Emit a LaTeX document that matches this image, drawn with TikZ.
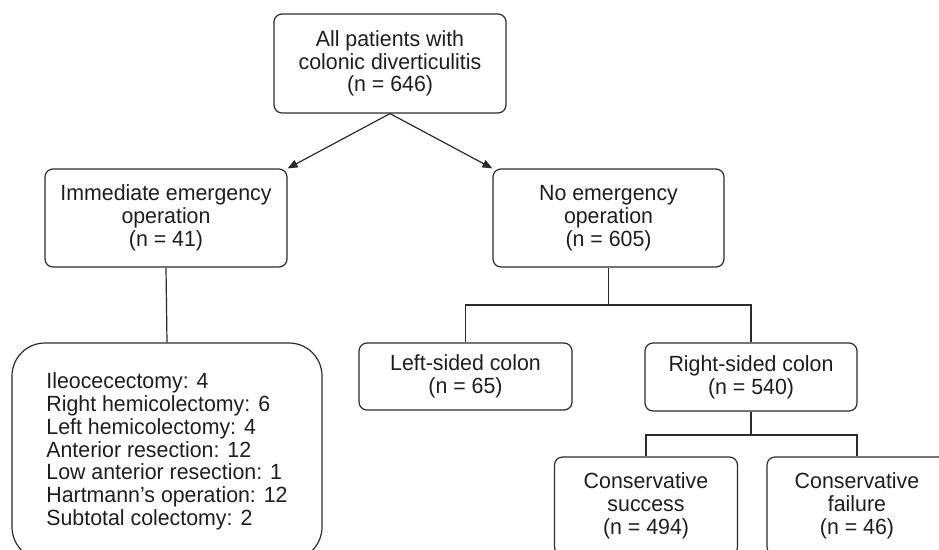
\documentclass[tikz,border=0pt]{standalone}
\usepackage{fontspec}
\setmainfont{Liberation Sans}[FakeStretch=0.97]
\usetikzlibrary{arrows.meta}
\definecolor{linegray}{HTML}{2B2B2B}
\definecolor{textgray}{HTML}{1E1E1E}

\begin{document}
\begin{tikzpicture}[x=1pt,y=-1pt,
		box/.style={draw=linegray,line width=1.2pt,rounded corners=8pt,align=center,inner sep=0pt,
			text=textgray,font=\fontsize{22}{22.8}\selectfont},
		link/.style={draw=linegray,line width=1.2pt},
		arr/.style={link,-{Triangle[length=10pt,width=8pt]}}]
	\clip (0,0) rectangle (939,549);
	% top level
	\node[box,minimum width=232pt,minimum height=99pt] (all) at (390,63.5) {All patients with\\colonic diverticulitis\\(n = 646)};
	\node[box,minimum width=242pt,minimum height=98pt] (emerg) at (166,218) {Immediate emergency\\operation\\(n = 41)};
	\node[box,minimum width=231pt,minimum height=98pt] (noemerg) at (608.5,218) {No emergency\\operation\\(n = 605)};
	\draw[arr] (all.south) -- (emerg.north east);
	\draw[arr] (all.south) -- (noemerg.north west);
	% operations
	\node[box,align=left,rounded corners=33pt,minimum width=310pt,minimum height=217pt] (ops) at (167,451.5) {Ileocecectomy: 4\\Right hemicolectomy: 6\\Left hemicolectomy: 4\\Anterior resection: 12\\Low anterior resection: 1\\Hartmann’s operation: 12\\Subtotal colectomy: 2};
	\draw[link] (emerg.south) -- (ops.north);
	% side of colon
	\node[box,minimum width=213pt,minimum height=67pt] (leftcol) at (465.5,376.5) {Left-sided colon\\(n = 65)};
	\node[box,minimum width=212pt,minimum height=68pt] (rightcol) at (751,377) {Right-sided colon\\(n = 540)};
	\coordinate (split1) at (608.5,305);
	\draw[link] (noemerg.south) -- (split1);
	\draw[link] (leftcol.north) |- (split1) -| (rightcol.north);
	% outcome
	\node[box,minimum width=183pt,minimum height=98pt] (succ) at (646,506) {Conservative\\success\\(n = 494)};
	\node[box,minimum width=180pt,minimum height=98pt] (fail) at (857,506) {Conservative\\failure\\(n = 46)};
	\coordinate (split2) at (751,435);
	\draw[link] (rightcol.south) -- (split2);
	\draw[link] (succ.north) |- (split2) -| (fail.north);
\end{tikzpicture}
\end{document}
